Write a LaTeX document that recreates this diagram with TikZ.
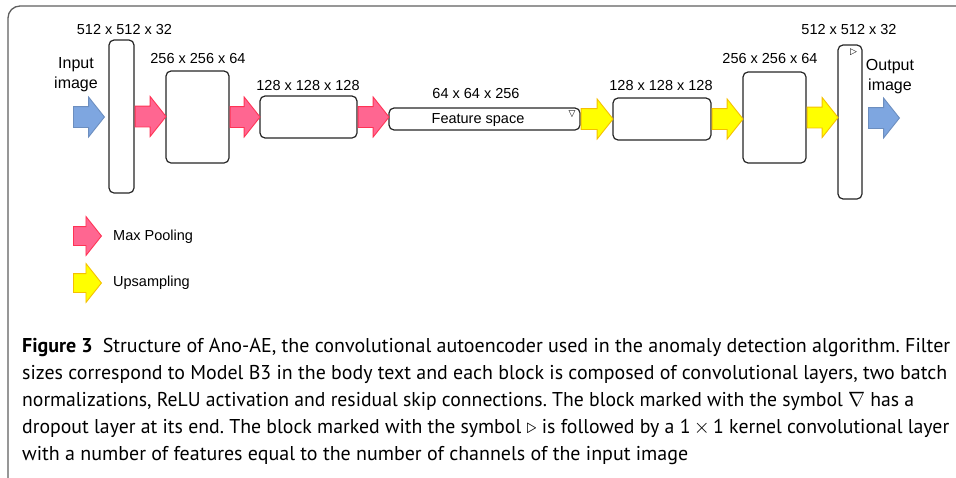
\documentclass[tikz,border=0pt]{standalone}
\usepackage{fontspec}
\usepackage{graphicx}
\setmainfont{PT Sans}
\newfontfamily\dfont{Liberation Sans}
\newfontfamily\symfont{DejaVu Sans}
\usetikzlibrary{shapes.arrows}
\definecolor{pinkfill}{RGB}{255,102,145}
\definecolor{pinkline}{RGB}{255,51,85}
\definecolor{yelfill}{RGB}{255,255,0}
\definecolor{yelline}{RGB}{245,192,0}
\definecolor{bluefill}{RGB}{126,166,224}
\definecolor{blueline}{RGB}{108,142,191}
\definecolor{framegray}{RGB}{95,95,95}
\newcommand{\capline}[2]{\resizebox{#1pt}{\height}{#2}}
\tikzset{
  block/.style={draw=black!85, line width=1.2pt, rounded corners=5pt, inner sep=0pt, fill=white},
  fat/.style={single arrow, inner xsep=0pt, inner ysep=10pt, minimum height=31pt,
     single arrow head extend=9.5pt, single arrow tip angle=103, anchor=tail, line width=0.9pt},
  pinkarr/.style={fat, fill=pinkfill, draw=pinkline},
  yelarr/.style={fat, fill=yelfill, draw=yelline},
  bluearr/.style={fat, fill=bluefill, draw=blueline},
  legarr/.style={inner ysep=9pt, single arrow head extend=10pt, minimum height=28pt},
  dlabel/.style={font=\dfont\fontsize{14.5}{17}\selectfont, inner sep=0pt, anchor=base},
  iolabel/.style={font=\dfont\fontsize{16}{20}\selectfont, inner sep=0pt, anchor=base},
  caption/.style={font=\fontsize{20}{27}\selectfont\frenchspacing, inner sep=0pt, anchor=base west},
  marker/.style={font=\symfont\fontsize{9}{9}\selectfont, inner sep=0pt},
}
\begin{document}
\begin{tikzpicture}[x=1pt,y=-1pt]
\useasboundingbox (0,0) rectangle (956,477);
\clip (0,0) rectangle (956,477);
\draw[framegray, line width=1.3pt, rounded corners=12pt] (8,6) rectangle (990,500);

% blocks
\node[block, minimum width=25pt, minimum height=153pt] (b1) at (121.5,116.5) {};
\node[block, minimum width=63pt, minimum height=92pt] (b2) at (197.5,117) {};
\node[block, minimum width=97pt, minimum height=42pt] (b3) at (308.5,117) {};
\node[block, minimum width=191pt, minimum height=22pt] (b4) at (484.5,119) {};
\node[block, minimum width=98pt, minimum height=42pt] (b5) at (662,119) {};
\node[block, minimum width=63pt, minimum height=91pt] (b6) at (774.5,117.5) {};
\node[block, minimum width=24pt, minimum height=154pt] (b7) at (850,122) {};

\node[dlabel] (fs) at (478,123) {Feature space};
\node[marker] (nab) at (572,114.5) {▽};
\node[marker] (tri) at (853.5,52) {▷};

% size labels
\node[dlabel] (l1) at (124.5,34) {512 x 512 x 32};
\node[dlabel] (l2) at (198,63) {256 x 256 x 64};
\node[dlabel] (l3) at (308,90.5) {128 x 128 x 128};
\node[dlabel] (l4) at (476,98) {64 x 64 x 256};
\node[dlabel] (l5) at (661,90.5) {128 x 128 x 128};
\node[dlabel] (l6) at (770,63) {256 x 256 x 64};
\node[dlabel] (l7) at (849,34) {512 x 512 x 32};

\node[iolabel] (in1) at (76,68.5) {Input};
\node[iolabel] (in2) at (76,88) {image};
\node[iolabel] (out1) at (890,70.5) {Output};
\node[iolabel] (out2) at (890,90) {image};

% arrows
\node[bluearr] (ain) at (73,117) {};
\node[pinkarr, minimum height=31pt] (m1) at (b1.east) {};
\node[pinkarr, minimum height=30pt] (m2) at (b2.east) {};
\node[pinkarr, minimum height=31pt] (m3) at (b3.east) {};
\node[yelarr, minimum height=32pt] (u1) at (b4.east) {};
\node[yelarr, minimum height=31pt] (u2) at (b5.east) {};
\node[yelarr, minimum height=31pt] (u3) at (b6.east) {};
\node[bluearr] (aout) at (868,118) {};

% legend
\node[pinkarr, legarr] (legp) at (73,236) {};
\node[dlabel, anchor=west] (legpt) at (113,237) {Max Pooling};
\node[yelarr, legarr] (legy) at (73,283) {};
\node[dlabel, anchor=west] (legyt) at (113,283) {Upsampling};

% caption
\node[caption] (c1) at (22,352) {\capline{928}{\textbf{Figure 3}\hspace{0.5em}Structure of Ano-AE, the convolutional autoencoder used in the anomaly detection algorithm. Filter}};
\node[caption] (c2) at (22,379) {\capline{925}{sizes correspond to Model B3 in the body text and each block is composed of convolutional layers, two batch}};
\node[caption] (c3) at (22,406) {\capline{892}{normalizations, ReLU activation and residual skip connections. The block marked with the symbol $\nabla$ has a}};
\node[caption] (c4) at (22,433) {\capline{927}{dropout layer at its end. The block marked with the symbol $\triangleright$ is followed by a 1\,$\times$\,1 kernel convolutional layer}};
\node[caption] (c5) at (22,460) {\capline{666}{with a number of features equal to the number of channels of the input image}};
\end{tikzpicture}
\end{document}
